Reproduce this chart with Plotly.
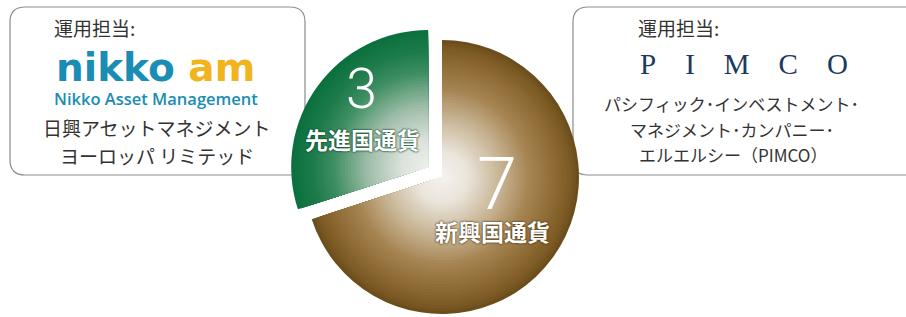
import plotly.graph_objects as go

W, H = 906, 317

# ---------------- data ----------------
categories = ["先進国通貨", "新興国通貨"]
values = [3, 7]
value_labels = ["3", "7"]

left_heading = "運用担当:"
left_logo_main = "nikko"
left_logo_accent = "am"
left_logo_caption = "Nikko Asset Management"
left_lines = ["日興アセットマネジメント", "ヨーロッパ リミテッド"]

right_heading = "運用担当:"
right_logo = "PIMCO"
right_lines = ["パシフィック･インベストメント･", "マネジメント･カンパニー･", "エルエルシー（PIMCO）"]

# ---------------- style ----------------
R = 137
brown_c = (442, 177)
green_c = (428.2, 167)
N_LAYERS = 46

green_stops = [(0.0, (238, 240, 236)), (0.2, (220, 227, 220)), (0.45, (160, 190, 170)),
               (0.7, (62, 142, 98)), (0.85, (30, 124, 76)), (1.0, (10, 112, 62))]
brown_stops = [(0.0, (246, 244, 240)), (0.2, (234, 228, 218)), (0.45, (198, 178, 145)),
               (0.65, (166, 132, 82)), (0.85, (140, 104, 50)), (0.95, (124, 90, 36)),
               (1.0, (108, 78, 28))]


def grad(stops, t):
    for (t0, c0), (t1, c1) in zip(stops[:-1], stops[1:]):
        if t <= t1:
            f = (t - t0) / (t1 - t0) if t1 > t0 else 0
            return "rgb(%d,%d,%d)" % tuple(round(a + (b - a) * f) for a, b in zip(c0, c1))
    return "rgb(%d,%d,%d)" % stops[-1][1]


def px_x(x):
    return x / W


def px_y(y):
    return 1 - y / H


def domain(c, r):
    cx, cy = c
    return dict(x=[px_x(cx - r), px_x(cx + r)], y=[px_y(cy + r), px_y(cy - r)])


fig = go.Figure()
clear = "rgba(0,0,0,0)"
for k in range(N_LAYERS):
    t = 1 - k / N_LAYERS
    r = R * t
    for c, colors in ((brown_c, [clear, grad(brown_stops, t)]),
                      (green_c, [grad(green_stops, t), clear])):
        fig.add_trace(go.Pie(
            labels=categories, values=values, sort=False, direction="clockwise",
            rotation=-108, textinfo="none", showlegend=False, hole=0,
            marker=dict(colors=colors, line=dict(width=0)),
            domain=domain(c, r), hoverinfo="label+value" if k == 0 else "skip",
        ))


def rrect(x0, y0, x1, y1, rad):
    p = [
        (x0 + rad, y0), (x1 - rad, y0), (x1, y0), (x1, y0 + rad), (x1, y1 - rad), (x1, y1),
        (x1 - rad, y1), (x0 + rad, y1), (x0, y1), (x0, y1 - rad), (x0, y0 + rad), (x0, y0),
    ]
    f = lambda q: "%.5f,%.5f" % (px_x(q[0]), px_y(q[1]))
    return ("M" + f(p[0]) + " L" + f(p[1]) + " Q" + f(p[2]) + " " + f(p[3]) +
            " L" + f(p[4]) + " Q" + f(p[5]) + " " + f(p[6]) + " L" + f(p[7]) +
            " Q" + f(p[8]) + " " + f(p[9]) + " L" + f(p[10]) + " Q" + f(p[11]) + " " + f(p[0]) + " Z")


shapes = [
    dict(type="path", path=rrect(10, 7, 305, 175, 15), xref="paper", yref="paper",
         line=dict(color="#8c8c8c", width=1.2), fillcolor="white", layer="below"),
    dict(type="path", path=rrect(573, 7, 940, 175, 15), xref="paper", yref="paper",
         line=dict(color="#8c8c8c", width=1.2), fillcolor="white", layer="below"),
]

JP = "Noto Sans CJK JP"
ann = []


def A(text, x, y, size, color="#333333", family=JP, xanchor="center", weight="normal", shadow="none"):
    ann.append(dict(text=text, x=px_x(x), y=px_y(y), xref="paper", yref="paper",
                    xanchor=xanchor, yanchor="middle", showarrow=False,
                    font=dict(size=size, color=color, family=family, weight=weight, shadow=shadow)))


# left box
A(left_heading, 52, 27, 19, xanchor="left")
A("<span style='color:#1a8db4'>%s</span> <span style='color:#f2b41c'>%s</span>"
  % (left_logo_main, left_logo_accent), 155, 67, 39, family="DejaVu Sans", weight="bold")
A(left_logo_caption, 156, 98, 16.5, color="#1a8db4", family="Open Sans", weight=600)
A(left_lines[0], 157, 128, 19)
A(left_lines[1], 157, 155, 19)

# right box
A(right_heading, 636, 27, 19, xanchor="left")
A("\u00a0\u00a0\u00a0\u00a0".join(right_logo), 744, 64, 29, color="#1d3a5c", family="Liberation Serif")
A(right_lines[0], 731, 104, 17)
A(right_lines[1], 732, 129, 17)
A(right_lines[2], 733, 154, 17)

# pie labels
A(value_labels[0], 361, 89, 56, color="white", family="Roboto", weight=300)
A(categories[0], 362, 139, 23, color="white", weight="bold",
  shadow="0px 0px 2px rgba(10,70,40,0.95), 0px 0px 2px rgba(10,70,40,0.95)")
A(value_labels[1], 497, 184, 72, color="white", family="Roboto", weight=300)
A(categories[1], 492, 231, 23, color="white", weight="bold",
  shadow="0px 0px 2px rgba(80,55,20,0.95), 0px 0px 2px rgba(80,55,20,0.95)")

fig.update_layout(
    width=W, height=H, margin=dict(l=0, r=0, t=0, b=0),
    paper_bgcolor="white", plot_bgcolor="white",
    shapes=shapes, annotations=ann, showlegend=False,
)

fig.write_html("out.html", config={"displayModeBar": False},
               post_script="document.body.style.margin='0px';document.body.style.overflow='hidden';")
